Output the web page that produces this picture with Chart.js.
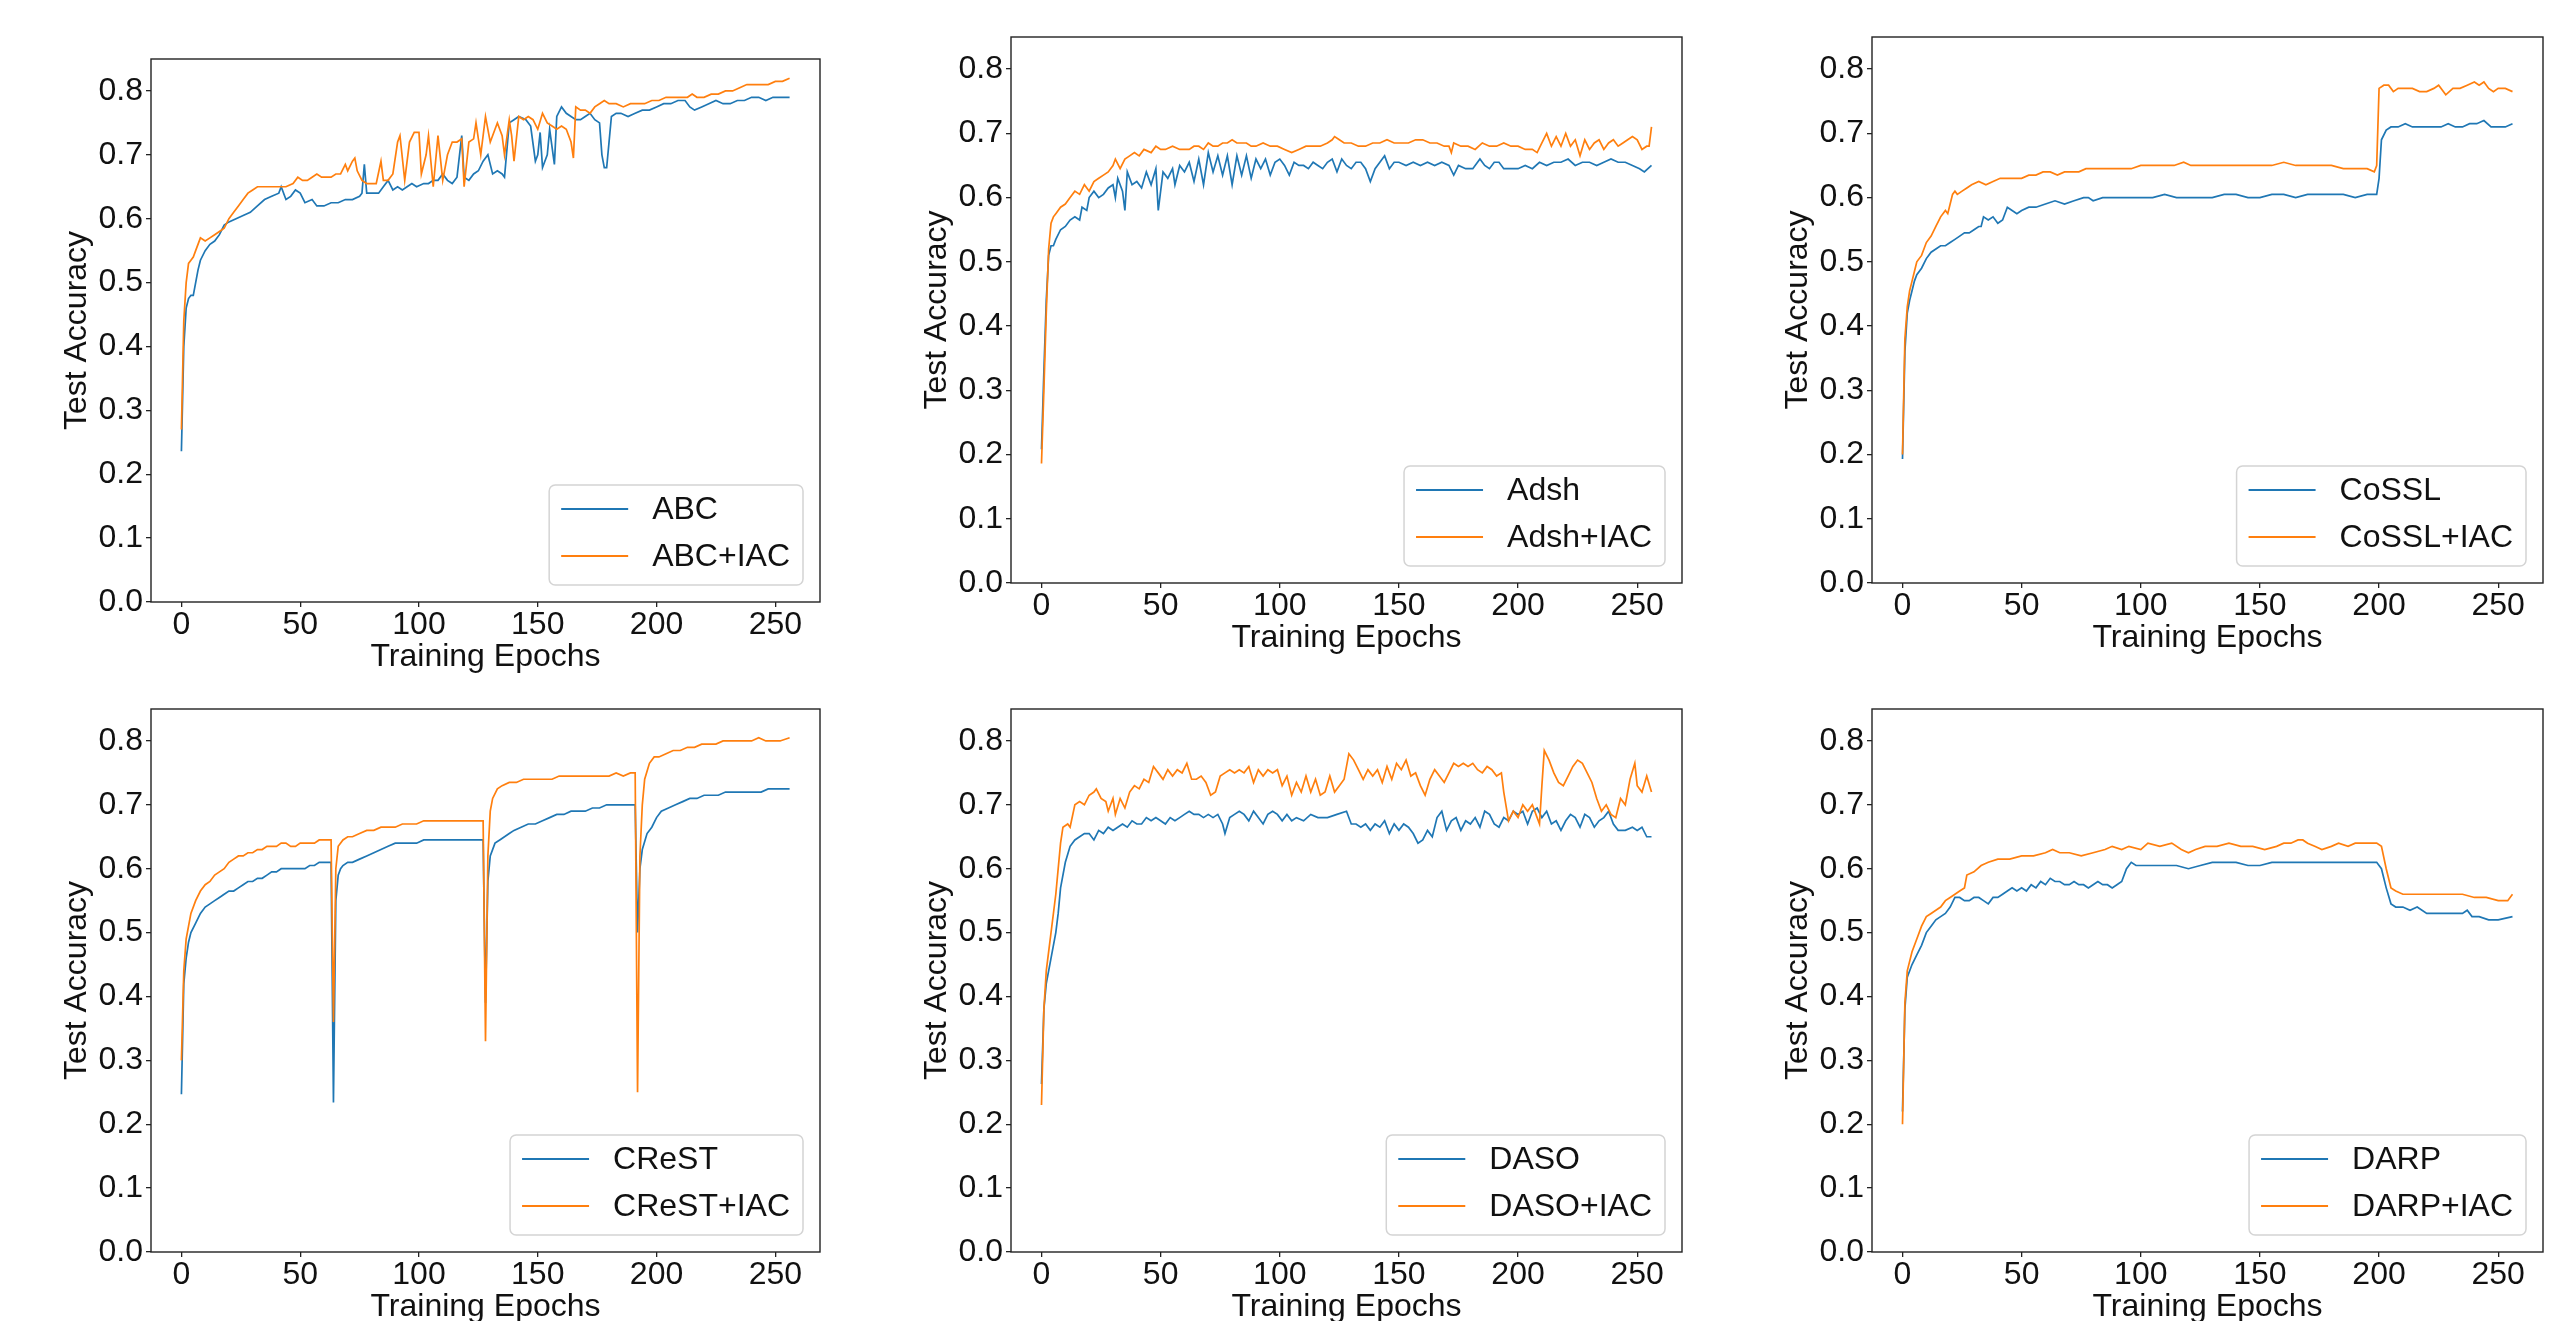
<!DOCTYPE html>
<html>
<head>
<meta charset="utf-8">
<script src="https://cdn.jsdelivr.net/npm/chart.js@4.4.0/dist/chart.umd.min.js"></script>
<style>
  body { margin: 0; background: #fff; width: 2572px; height: 1321px; overflow: hidden; position: relative; }
  canvas { position: absolute; }
</style>
</head>
<body>
<canvas id="c0"></canvas>
<canvas id="c1"></canvas>
<canvas id="c2"></canvas>
<canvas id="c3"></canvas>
<canvas id="c4"></canvas>
<canvas id="c5"></canvas>
<script>
// tick labels
var xTicks = [0, 50, 100, 150, 200, 250];
var yTicks = [0, 0.1, 0.2, 0.3, 0.4, 0.5, 0.6, 0.7, 0.8];

// [epoch, test accuracy]
var abcBase = [[0,0.236],[1,0.40],[2,0.46],[3,0.475],[4,0.48],[5,0.48],[6,0.50],[7,0.52],[8,0.535],[10,0.55],[12,0.56],[14,0.565],[16,0.575],[18,0.59],[20,0.595],[23,0.60],[26,0.605],[29,0.61],[32,0.62],[35,0.63],[38,0.635],[41,0.64],[42,0.65],[44,0.63],[46,0.635],[48,0.645],[50,0.64],[52,0.625],[55,0.63],[57,0.62],[60,0.62],[63,0.625],[66,0.625],[69,0.63],[72,0.63],[75,0.635],[76,0.64],[77,0.685],[78,0.64],[80,0.64],[83,0.64],[85,0.65],[87,0.66],[89,0.645],[91,0.65],[93,0.645],[95,0.65],[97,0.655],[99,0.65],[102,0.655],[104,0.655],[106,0.66],[108,0.66],[110,0.67],[112,0.66],[114,0.655],[116,0.665],[118,0.73],[119,0.665],[121,0.66],[123,0.67],[125,0.675],[127,0.69],[129,0.70],[131,0.67],[133,0.675],[135,0.67],[136,0.665],[138,0.75],[140,0.755],[142,0.76],[145,0.755],[147,0.745],[149,0.69],[150,0.70],[151,0.735],[152,0.68],[154,0.70],[155,0.74],[157,0.685],[158,0.76],[160,0.775],[162,0.765],[164,0.76],[166,0.755],[168,0.755],[170,0.76],[172,0.765],[174,0.755],[176,0.75],[177,0.70],[178,0.68],[179,0.68],[180,0.72],[181,0.76],[183,0.765],[185,0.765],[188,0.76],[191,0.765],[194,0.77],[197,0.77],[200,0.775],[203,0.78],[206,0.78],[209,0.785],[212,0.785],[214,0.775],[216,0.77],[219,0.775],[222,0.78],[225,0.785],[228,0.78],[231,0.78],[234,0.785],[237,0.785],[240,0.79],[243,0.79],[246,0.785],[249,0.79],[252,0.79],[256,0.79]];
var abcIac = [[0,0.27],[1,0.44],[2,0.50],[3,0.53],[4,0.535],[5,0.54],[6,0.55],[8,0.57],[10,0.565],[12,0.57],[14,0.575],[16,0.58],[18,0.585],[20,0.60],[22,0.61],[24,0.62],[26,0.63],[28,0.64],[30,0.645],[32,0.65],[35,0.65],[38,0.65],[41,0.65],[44,0.65],[47,0.655],[49,0.665],[51,0.66],[53,0.66],[55,0.665],[57,0.67],[59,0.665],[61,0.665],[63,0.665],[65,0.67],[67,0.67],[69,0.685],[70,0.675],[72,0.69],[73,0.695],[74,0.675],[76,0.66],[78,0.655],[80,0.655],[82,0.655],[84,0.69],[85,0.66],[87,0.66],[89,0.67],[91,0.72],[92,0.73],[94,0.66],[96,0.72],[98,0.735],[100,0.735],[101,0.67],[103,0.70],[104,0.73],[106,0.65],[108,0.73],[110,0.66],[112,0.70],[114,0.72],[116,0.72],[118,0.725],[119,0.65],[121,0.72],[123,0.725],[124,0.75],[126,0.70],[128,0.76],[130,0.72],[132,0.74],[133,0.75],[135,0.73],[136,0.70],[138,0.755],[139,0.73],[140,0.69],[142,0.76],[144,0.755],[146,0.76],[148,0.755],[150,0.74],[152,0.765],[154,0.75],[156,0.745],[158,0.74],[160,0.745],[162,0.74],[164,0.72],[165,0.695],[166,0.775],[168,0.77],[170,0.77],[172,0.765],[174,0.775],[176,0.78],[178,0.785],[180,0.78],[183,0.78],[186,0.775],[189,0.78],[192,0.78],[195,0.78],[198,0.785],[201,0.785],[204,0.79],[207,0.79],[210,0.79],[213,0.79],[215,0.795],[217,0.79],[220,0.79],[223,0.795],[226,0.795],[229,0.80],[232,0.80],[235,0.805],[238,0.81],[241,0.81],[244,0.81],[247,0.81],[250,0.815],[253,0.815],[256,0.82]];

var adshBase = [[0,0.208],[1,0.33],[2,0.44],[3,0.51],[4,0.525],[5,0.525],[6,0.535],[8,0.55],[10,0.555],[12,0.565],[14,0.57],[16,0.565],[17,0.585],[19,0.58],[20,0.60],[22,0.61],[24,0.60],[26,0.605],[28,0.615],[30,0.62],[31,0.60],[32,0.63],[34,0.61],[35,0.58],[36,0.64],[38,0.62],[40,0.625],[42,0.615],[44,0.64],[46,0.62],[48,0.645],[49,0.58],[51,0.64],[53,0.63],[55,0.645],[56,0.62],[58,0.65],[60,0.64],[62,0.655],[64,0.625],[66,0.66],[68,0.62],[70,0.67],[72,0.64],[74,0.665],[76,0.635],[78,0.665],[80,0.62],[82,0.665],[84,0.635],[86,0.665],[88,0.63],[90,0.66],[92,0.645],[94,0.66],[96,0.635],[98,0.655],[100,0.66],[102,0.65],[104,0.635],[106,0.655],[108,0.65],[110,0.65],[112,0.645],[114,0.655],[116,0.65],[118,0.645],[120,0.655],[122,0.66],[124,0.64],[126,0.66],[128,0.65],[130,0.645],[132,0.655],[134,0.655],[136,0.645],[138,0.625],[140,0.645],[142,0.655],[144,0.665],[146,0.645],[148,0.655],[150,0.655],[153,0.65],[156,0.655],[159,0.65],[162,0.655],[165,0.65],[168,0.655],[171,0.65],[173,0.635],[175,0.65],[178,0.645],[181,0.645],[184,0.66],[186,0.65],[188,0.645],[190,0.655],[192,0.655],[194,0.645],[196,0.645],[198,0.645],[200,0.645],[203,0.65],[206,0.645],[209,0.655],[212,0.65],[215,0.655],[218,0.655],[221,0.66],[224,0.65],[227,0.655],[230,0.655],[233,0.65],[236,0.655],[239,0.66],[242,0.655],[245,0.655],[248,0.65],[251,0.645],[253,0.64],[256,0.65]];
var adshIac = [[0,0.186],[1,0.30],[2,0.42],[3,0.52],[4,0.56],[5,0.57],[6,0.575],[8,0.585],[10,0.59],[12,0.60],[14,0.61],[16,0.605],[18,0.62],[20,0.61],[22,0.625],[24,0.63],[26,0.635],[28,0.64],[30,0.65],[31,0.66],[33,0.645],[35,0.66],[37,0.665],[39,0.67],[41,0.665],[43,0.675],[46,0.67],[48,0.68],[50,0.675],[52,0.675],[55,0.68],[58,0.675],[60,0.675],[62,0.675],[64,0.68],[66,0.68],[68,0.675],[70,0.685],[72,0.68],[74,0.68],[76,0.685],[78,0.685],[80,0.69],[82,0.685],[84,0.685],[86,0.685],[88,0.68],[90,0.68],[93,0.685],[96,0.68],[99,0.68],[102,0.675],[105,0.67],[108,0.675],[111,0.68],[114,0.68],[117,0.68],[120,0.685],[122,0.69],[123,0.695],[125,0.69],[127,0.685],[130,0.685],[133,0.68],[136,0.68],[139,0.685],[142,0.685],[145,0.69],[148,0.685],[151,0.685],[154,0.685],[157,0.69],[160,0.69],[163,0.685],[166,0.685],[169,0.68],[171,0.68],[172,0.67],[173,0.685],[176,0.68],[179,0.68],[182,0.675],[185,0.685],[188,0.68],[191,0.68],[194,0.685],[197,0.68],[200,0.68],[203,0.675],[206,0.675],[208,0.67],[210,0.685],[212,0.70],[214,0.68],[216,0.695],[218,0.68],[220,0.70],[222,0.68],[224,0.69],[226,0.665],[228,0.69],[230,0.675],[232,0.685],[234,0.69],[236,0.675],[238,0.685],[240,0.69],[242,0.68],[244,0.685],[246,0.69],[248,0.695],[250,0.69],[252,0.675],[254,0.68],[255,0.68],[256,0.71]];

var cosslBase = [[0,0.193],[1,0.36],[2,0.42],[3,0.44],[4,0.455],[5,0.47],[6,0.48],[8,0.49],[10,0.505],[12,0.515],[14,0.52],[16,0.525],[18,0.525],[20,0.53],[22,0.535],[24,0.54],[26,0.545],[28,0.545],[30,0.55],[32,0.555],[33,0.555],[34,0.57],[36,0.565],[38,0.57],[40,0.56],[42,0.565],[44,0.585],[46,0.58],[48,0.575],[50,0.58],[53,0.585],[56,0.585],[60,0.59],[64,0.595],[68,0.59],[72,0.595],[76,0.60],[78,0.60],[80,0.595],[84,0.60],[88,0.60],[92,0.60],[96,0.60],[100,0.60],[105,0.60],[110,0.605],[115,0.60],[120,0.60],[125,0.60],[130,0.60],[135,0.605],[140,0.605],[145,0.60],[150,0.60],[155,0.605],[160,0.605],[165,0.60],[170,0.605],[175,0.605],[180,0.605],[185,0.605],[190,0.60],[195,0.605],[199,0.605],[200,0.63],[201,0.69],[203,0.705],[205,0.71],[208,0.71],[211,0.715],[214,0.71],[217,0.71],[220,0.71],[223,0.71],[226,0.71],[229,0.715],[232,0.71],[235,0.71],[238,0.715],[241,0.715],[244,0.72],[247,0.71],[250,0.71],[253,0.71],[256,0.715]];
var cosslIac = [[0,0.20],[1,0.38],[2,0.43],[3,0.455],[4,0.47],[5,0.485],[6,0.50],[8,0.51],[10,0.53],[12,0.54],[14,0.555],[16,0.57],[18,0.58],[19,0.575],[20,0.59],[21,0.605],[22,0.61],[23,0.605],[25,0.61],[27,0.615],[29,0.62],[32,0.625],[35,0.62],[38,0.625],[41,0.63],[44,0.63],[47,0.63],[50,0.63],[53,0.635],[56,0.635],[59,0.64],[62,0.64],[65,0.635],[68,0.64],[71,0.64],[74,0.64],[77,0.645],[80,0.645],[84,0.645],[88,0.645],[92,0.645],[96,0.645],[100,0.65],[105,0.65],[110,0.65],[114,0.65],[118,0.655],[121,0.65],[125,0.65],[130,0.65],[135,0.65],[140,0.65],[145,0.65],[150,0.65],[155,0.65],[160,0.655],[165,0.65],[170,0.65],[175,0.65],[180,0.65],[185,0.645],[190,0.645],[195,0.645],[198,0.64],[199,0.65],[200,0.77],[202,0.775],[204,0.775],[206,0.765],[208,0.77],[211,0.77],[214,0.77],[217,0.765],[220,0.765],[223,0.77],[225,0.775],[228,0.76],[231,0.77],[234,0.77],[237,0.775],[240,0.78],[242,0.775],[244,0.78],[246,0.77],[248,0.765],[250,0.77],[253,0.77],[256,0.765]];

var crestBase = [[0,0.247],[1,0.42],[2,0.46],[3,0.485],[4,0.50],[6,0.515],[8,0.53],[10,0.54],[12,0.545],[14,0.55],[16,0.555],[18,0.56],[20,0.565],[22,0.565],[24,0.57],[26,0.575],[28,0.58],[30,0.58],[32,0.585],[34,0.585],[36,0.59],[38,0.595],[40,0.595],[42,0.60],[44,0.60],[46,0.60],[48,0.60],[50,0.60],[52,0.60],[54,0.605],[56,0.605],[58,0.61],[60,0.61],[62,0.61],[63,0.61],[64,0.234],[65,0.55],[66,0.59],[67,0.60],[68,0.605],[70,0.61],[72,0.61],[75,0.615],[78,0.62],[81,0.625],[84,0.63],[87,0.635],[90,0.64],[93,0.64],[96,0.64],[99,0.64],[102,0.645],[105,0.645],[108,0.645],[111,0.645],[114,0.645],[117,0.645],[120,0.645],[123,0.645],[127,0.645],[128,0.39],[129,0.58],[130,0.62],[132,0.64],[134,0.645],[136,0.65],[138,0.655],[140,0.66],[143,0.665],[146,0.67],[149,0.67],[152,0.675],[155,0.68],[158,0.685],[161,0.685],[164,0.69],[167,0.69],[170,0.69],[173,0.695],[176,0.695],[179,0.70],[182,0.70],[185,0.70],[188,0.70],[191,0.70],[192,0.50],[193,0.60],[194,0.63],[196,0.655],[198,0.665],[200,0.68],[202,0.69],[205,0.695],[208,0.70],[211,0.705],[214,0.71],[217,0.71],[220,0.715],[223,0.715],[226,0.715],[229,0.72],[232,0.72],[235,0.72],[238,0.72],[241,0.72],[244,0.72],[247,0.725],[250,0.725],[253,0.725],[256,0.725]];
var crestIac = [[0,0.30],[1,0.44],[2,0.49],[3,0.51],[4,0.53],[6,0.55],[8,0.565],[10,0.575],[12,0.58],[14,0.59],[16,0.595],[18,0.60],[20,0.61],[22,0.615],[24,0.62],[26,0.62],[28,0.625],[30,0.625],[32,0.63],[34,0.63],[36,0.635],[38,0.635],[40,0.635],[42,0.64],[44,0.64],[46,0.635],[48,0.635],[50,0.64],[52,0.64],[54,0.64],[56,0.64],[58,0.645],[60,0.645],[62,0.645],[63,0.645],[64,0.36],[65,0.60],[66,0.635],[68,0.645],[70,0.65],[72,0.65],[75,0.655],[78,0.66],[81,0.66],[84,0.665],[87,0.665],[90,0.665],[93,0.67],[96,0.67],[99,0.67],[102,0.675],[105,0.675],[108,0.675],[111,0.675],[114,0.675],[117,0.675],[120,0.675],[123,0.675],[127,0.675],[128,0.33],[129,0.62],[130,0.69],[131,0.71],[133,0.725],[135,0.73],[138,0.735],[141,0.735],[144,0.74],[147,0.74],[150,0.74],[153,0.74],[156,0.74],[159,0.745],[162,0.745],[165,0.745],[168,0.745],[171,0.745],[174,0.745],[177,0.745],[180,0.745],[183,0.75],[186,0.745],[189,0.75],[191,0.75],[192,0.25],[193,0.62],[194,0.70],[195,0.74],[197,0.765],[199,0.775],[201,0.775],[204,0.78],[207,0.785],[210,0.785],[213,0.79],[216,0.79],[219,0.795],[222,0.795],[225,0.795],[228,0.80],[231,0.80],[234,0.80],[237,0.80],[240,0.80],[243,0.805],[246,0.80],[249,0.80],[252,0.80],[256,0.805]];

var dasoBase = [[0,0.263],[1,0.38],[2,0.42],[4,0.46],[6,0.50],[7,0.53],[8,0.57],[10,0.61],[12,0.635],[14,0.645],[16,0.65],[18,0.655],[20,0.655],[22,0.645],[24,0.66],[26,0.655],[28,0.665],[30,0.66],[32,0.665],[34,0.67],[36,0.665],[38,0.675],[40,0.67],[42,0.67],[44,0.68],[46,0.675],[48,0.68],[50,0.675],[52,0.67],[54,0.68],[56,0.675],[58,0.68],[60,0.685],[62,0.69],[64,0.685],[66,0.685],[68,0.68],[70,0.685],[72,0.68],[74,0.685],[76,0.67],[77,0.655],[79,0.68],[81,0.685],[83,0.69],[85,0.685],[87,0.675],[89,0.69],[91,0.68],[93,0.67],[95,0.685],[97,0.69],[99,0.685],[101,0.675],[103,0.685],[105,0.675],[107,0.68],[110,0.675],[113,0.685],[116,0.68],[120,0.68],[124,0.685],[128,0.69],[130,0.67],[132,0.67],[134,0.665],[136,0.67],[138,0.66],[140,0.67],[142,0.665],[144,0.675],[146,0.655],[148,0.67],[150,0.66],[152,0.67],[154,0.665],[156,0.655],[158,0.64],[160,0.645],[162,0.66],[164,0.65],[166,0.68],[168,0.69],[170,0.66],[172,0.675],[174,0.68],[176,0.66],[178,0.675],[180,0.67],[182,0.68],[184,0.665],[186,0.69],[188,0.685],[190,0.67],[192,0.665],[194,0.68],[196,0.675],[198,0.69],[200,0.685],[202,0.69],[204,0.67],[206,0.69],[208,0.695],[210,0.68],[212,0.69],[214,0.67],[216,0.675],[218,0.66],[220,0.675],[222,0.685],[224,0.68],[226,0.665],[228,0.685],[230,0.68],[232,0.665],[234,0.675],[236,0.68],[238,0.69],[240,0.67],[242,0.66],[245,0.66],[248,0.665],[250,0.66],[252,0.665],[254,0.65],[256,0.65]];
var dasoIac = [[0,0.23],[1,0.38],[2,0.44],[4,0.50],[6,0.56],[8,0.64],[9,0.665],[11,0.67],[12,0.665],[14,0.70],[16,0.705],[18,0.70],[20,0.715],[22,0.72],[23,0.725],[25,0.71],[27,0.705],[28,0.69],[29,0.70],[30,0.71],[31,0.685],[33,0.71],[35,0.695],[37,0.72],[39,0.73],[41,0.725],[43,0.74],[45,0.735],[47,0.76],[49,0.75],[51,0.74],[53,0.755],[55,0.745],[57,0.755],[59,0.75],[61,0.765],[63,0.74],[65,0.74],[67,0.745],[69,0.735],[71,0.715],[73,0.72],[75,0.745],[77,0.75],[79,0.755],[81,0.75],[83,0.755],[85,0.75],[87,0.76],[89,0.735],[91,0.755],[93,0.745],[95,0.755],[97,0.75],[99,0.755],[101,0.73],[103,0.745],[105,0.715],[107,0.735],[109,0.72],[111,0.745],[113,0.72],[115,0.74],[117,0.715],[119,0.72],[121,0.745],[123,0.72],[125,0.73],[127,0.74],[129,0.78],[131,0.77],[133,0.755],[135,0.74],[137,0.755],[139,0.745],[141,0.755],[143,0.735],[145,0.76],[147,0.74],[149,0.765],[151,0.755],[153,0.77],[155,0.745],[157,0.75],[159,0.73],[161,0.715],[163,0.74],[165,0.755],[167,0.745],[169,0.735],[171,0.75],[173,0.765],[175,0.76],[177,0.765],[179,0.76],[181,0.765],[183,0.755],[185,0.75],[187,0.76],[189,0.755],[191,0.745],[193,0.75],[194,0.72],[196,0.675],[198,0.69],[200,0.68],[202,0.70],[204,0.69],[206,0.70],[208,0.68],[209,0.67],[210,0.73],[211,0.785],[213,0.77],[215,0.75],[217,0.735],[219,0.73],[221,0.745],[223,0.76],[225,0.77],[227,0.765],[229,0.75],[231,0.735],[233,0.71],[235,0.69],[237,0.70],[239,0.685],[241,0.68],[243,0.71],[245,0.70],[247,0.74],[249,0.765],[250,0.73],[252,0.72],[254,0.745],[256,0.72]];

var darpBase = [[0,0.22],[1,0.38],[2,0.43],[4,0.45],[6,0.465],[8,0.48],[10,0.50],[12,0.51],[14,0.52],[16,0.525],[18,0.53],[20,0.54],[22,0.555],[24,0.555],[26,0.55],[28,0.55],[30,0.555],[32,0.555],[34,0.55],[36,0.545],[38,0.555],[40,0.555],[42,0.56],[44,0.565],[46,0.57],[48,0.565],[50,0.57],[52,0.565],[54,0.575],[56,0.57],[58,0.58],[60,0.575],[62,0.585],[64,0.58],[66,0.58],[68,0.575],[70,0.575],[72,0.58],[74,0.575],[76,0.575],[78,0.57],[80,0.575],[82,0.58],[84,0.575],[86,0.575],[88,0.57],[90,0.575],[92,0.58],[94,0.60],[96,0.61],[98,0.605],[100,0.605],[105,0.605],[110,0.605],[115,0.605],[120,0.60],[125,0.605],[130,0.61],[135,0.61],[140,0.61],[145,0.605],[150,0.605],[155,0.61],[160,0.61],[165,0.61],[170,0.61],[175,0.61],[180,0.61],[185,0.61],[190,0.61],[195,0.61],[199,0.61],[201,0.60],[203,0.57],[205,0.545],[207,0.54],[210,0.54],[213,0.535],[216,0.54],[220,0.53],[225,0.53],[230,0.53],[235,0.53],[237,0.535],[239,0.525],[242,0.525],[246,0.52],[250,0.52],[256,0.525]];
var darpIac = [[0,0.20],[1,0.39],[2,0.44],[4,0.47],[6,0.49],[8,0.51],[10,0.525],[12,0.53],[14,0.535],[16,0.54],[18,0.55],[20,0.555],[22,0.56],[24,0.565],[26,0.57],[27,0.59],[30,0.595],[33,0.605],[36,0.61],[40,0.615],[45,0.615],[50,0.62],[55,0.62],[60,0.625],[63,0.63],[66,0.625],[70,0.625],[75,0.62],[80,0.625],[85,0.63],[88,0.635],[92,0.63],[95,0.635],[100,0.63],[103,0.64],[108,0.635],[113,0.64],[117,0.63],[120,0.625],[123,0.63],[127,0.635],[132,0.635],[137,0.64],[142,0.635],[147,0.635],[152,0.63],[157,0.635],[160,0.64],[163,0.64],[166,0.645],[168,0.645],[170,0.64],[173,0.635],[176,0.63],[180,0.635],[183,0.64],[187,0.635],[190,0.64],[195,0.64],[199,0.64],[201,0.635],[203,0.60],[205,0.57],[207,0.565],[210,0.56],[215,0.56],[220,0.56],[225,0.56],[230,0.56],[235,0.56],[240,0.555],[245,0.555],[250,0.55],[254,0.55],[256,0.56]];

var fontFamily = "'Liberation Sans', Arial, sans-serif";
var textColor = '#111';
var spineColor = '#222';
var blue = '#1f77b4';
var orange = '#ff7f0e';

// plot rectangle [left, top, right, bottom] on the page
var panels = [
    {id: 'c0', names: ['ABC', 'ABC+IAC'], base: abcBase, iac: abcIac, box: [151, 59, 820, 602]},
    {id: 'c1', names: ['Adsh', 'Adsh+IAC'], base: adshBase, iac: adshIac, box: [1011, 37, 1682, 583]},
    {id: 'c2', names: ['CoSSL', 'CoSSL+IAC'], base: cosslBase, iac: cosslIac, box: [1872, 37, 2543, 583]},
    {id: 'c3', names: ['CReST', 'CReST+IAC'], base: crestBase, iac: crestIac, box: [151, 709, 820, 1252]},
    {id: 'c4', names: ['DASO', 'DASO+IAC'], base: dasoBase, iac: dasoIac, box: [1011, 709, 1682, 1252]},
    {id: 'c5', names: ['DARP', 'DARP+IAC'], base: darpBase, iac: darpIac, box: [1872, 709, 2543, 1252]}
];

var Y_W = 110, X_H = 80, PAD_T = 30, PAD_R = 10;

// spines on all four sides and a matplotlib-style legend in the lower right
var framePlugin = {
    id: 'frame',
    afterDatasetsDraw: function(chart) {
        var ctx = chart.ctx, a = chart.chartArea;
        ctx.save();
        ctx.strokeStyle = spineColor;
        ctx.lineWidth = 1.4;
        ctx.strokeRect(a.left, a.top, a.right - a.left, a.bottom - a.top);

        ctx.font = '32px ' + fontFamily;
        var sets = chart.data.datasets;
        var textW = Math.max.apply(null, sets.map(function(d) { return ctx.measureText(d.label).width; }));
        var w = 116 + textW, h = 100;
        var x = a.right - 17 - w, y = a.bottom - 17 - h;
        ctx.beginPath();
        ctx.roundRect(x, y, w, h, 6);
        ctx.fillStyle = 'rgba(255,255,255,0.8)';
        ctx.fill();
        ctx.strokeStyle = '#d4d4d4';
        ctx.lineWidth = 1.5;
        ctx.stroke();
        sets.forEach(function(d, i) {
            var cy = y + 24 + i * 47;
            ctx.strokeStyle = d.borderColor;
            ctx.lineWidth = 1.8;
            ctx.beginPath();
            ctx.moveTo(x + 12, cy);
            ctx.lineTo(x + 79, cy);
            ctx.stroke();
            ctx.fillStyle = textColor;
            ctx.textBaseline = 'middle';
            ctx.textAlign = 'left';
            ctx.fillText(d.label, x + 103, cy + 1);
        });
        ctx.restore();
    }
};

function toPoints(pairs) {
    return pairs.map(function(p) { return {x: p[0], y: p[1]}; });
}

panels.forEach(function(p) {
    var L = p.box[0], T = p.box[1], R = p.box[2], B = p.box[3];
    var canvas = document.getElementById(p.id);
    canvas.width = Y_W + (R - L) + PAD_R;
    canvas.height = PAD_T + (B - T) + X_H;
    canvas.style.left = (L - Y_W) + 'px';
    canvas.style.top = (T - PAD_T) + 'px';

    new Chart(canvas, {
        type: 'line',
        data: {
            datasets: [
                {label: p.names[0], data: toPoints(p.base), borderColor: blue, borderWidth: 1.7, order: 1},
                {label: p.names[1], data: toPoints(p.iac), borderColor: orange, borderWidth: 1.7, order: 0}
            ]
        },
        options: {
            responsive: false,
            animation: false,
            devicePixelRatio: 1,
            layout: {padding: {top: PAD_T, right: PAD_R, left: 0, bottom: 0}},
            elements: {point: {radius: 0}, line: {tension: 0, fill: false}},
            plugins: {legend: {display: false}, tooltip: {enabled: false}},
            scales: {
                x: {
                    type: 'linear',
                    min: -12.8,
                    max: 268.8,
                    afterBuildTicks: function(s) { s.ticks = xTicks.map(function(v) { return {value: v}; }); },
                    afterFit: function(s) { s.height = X_H; },
                    border: {display: false},
                    grid: {display: true, drawOnChartArea: false, drawTicks: true, tickLength: 5, color: spineColor, lineWidth: 1.3},
                    ticks: {autoSkip: false, maxRotation: 0, padding: 4, color: textColor, font: {family: fontFamily, size: 32, lineHeight: 0.9}},
                    title: {display: true, text: 'Training Epochs', color: textColor, font: {family: fontFamily, size: 32}, padding: {top: 0, bottom: 6}}
                },
                y: {
                    min: 0,
                    max: 0.85,
                    afterBuildTicks: function(s) { s.ticks = yTicks.map(function(v) { return {value: v}; }); },
                    afterFit: function(s) { s.width = Y_W; },
                    border: {display: false},
                    grid: {display: true, drawOnChartArea: false, drawTicks: true, tickLength: 5, color: spineColor, lineWidth: 1.3},
                    ticks: {padding: 3, color: textColor, font: {family: fontFamily, size: 32}, callback: function(v) { return v.toFixed(1); }},
                    title: {display: true, text: 'Test Accuracy', color: textColor, font: {family: fontFamily, size: 32}, padding: {top: 17, bottom: 0}}
                }
            }
        },
        plugins: [framePlugin]
    });
});
</script>
</body>
</html>
